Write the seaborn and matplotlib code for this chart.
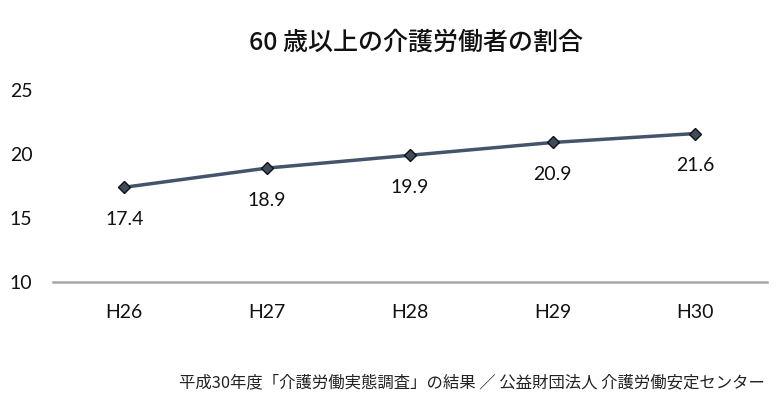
import matplotlib
matplotlib.use("Agg")
import matplotlib.pyplot as plt
import seaborn as sns
import pandas as pd

years = ["H26", "H27", "H28", "H29", "H30"]
values = [17.4, 18.9, 19.9, 20.9, 21.6]
yticks = [10, 15, 20, 25]
title = "60 歳以上の介護労働者の割合"
source = "平成30年度「介護労働実態調査」の結果 ／ 公益財団法人 介護労働安定センター"

sns.set_style("white")
plt.rcParams['font.family'] = ['Noto Sans CJK JP', 'DejaVu Sans']

df = pd.DataFrame({"year": years, "value": values})

fig = plt.figure(figsize=(7.77, 4.0), dpi=100)
ax = fig.add_axes([0.068, 0.295, 0.919, 0.48])

sns.lineplot(data=df, x="year", y="value", ax=ax, sort=False,
             color="#44546A", linewidth=2.5, marker="D", markersize=6.5,
             markerfacecolor="#3E4C5E", markeredgecolor="#111111",
             markeredgewidth=1.0)

for i, v in enumerate(values):
    ax.annotate(f"{v:.1f}", (i, v), xytext=(0, -23), textcoords="offset points",
                ha="center", va="center", fontsize=14, family="Lato",
                color="#111111")

ax.set_xlim(-0.5, len(years) - 0.5)
ax.set_ylim(10, 25)
ax.set_yticks(yticks)
ax.set_yticklabels([str(t) for t in yticks], family="Lato", fontsize=14,
                   color="#111111")
ax.set_xticks(range(len(years)))
ax.set_xticklabels(years, family="Lato", fontsize=14, color="#111111")
ax.tick_params(axis="x", length=0, pad=16)
for lbl in ax.get_yticklabels():
    lbl.set_horizontalalignment("left")
ax.tick_params(axis="y", length=0, pad=31)

for s in ["top", "right", "left"]:
    ax.spines[s].set_visible(False)
ax.spines["bottom"].set_color("#A6A6A6")
ax.spines["bottom"].set_linewidth(1.8)
ax.set_xlabel("")
ax.set_ylabel("")
ax.grid(False)

fig.text(0.536, 0.893, title, ha="center", va="center", fontsize=18,
         fontweight="medium", color="#111111")
fig.text(0.985, 0.043, source, ha="right", va="center", fontsize=11.8,
         color="#222222")

fig.savefig("out.png", dpi=100)
